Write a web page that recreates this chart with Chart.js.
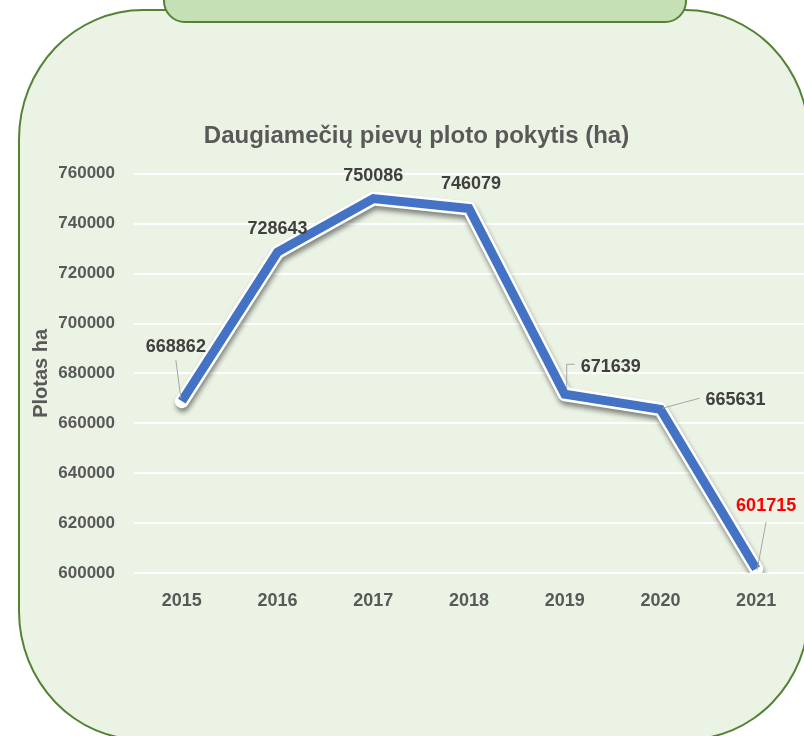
<!DOCTYPE html>
<html><head><meta charset="utf-8">
<script src="https://cdn.jsdelivr.net/npm/chart.js@4"></script>
<style>
html,body{margin:0;padding:0;width:804px;height:736px;overflow:hidden;background:#fff;}
#panel{position:absolute;left:18px;top:9px;width:792px;height:732px;box-sizing:border-box;border:2px solid #548235;border-radius:125px/130px;background:#ebf3e5;}
#tab{position:absolute;left:163px;top:-40px;width:524px;height:63px;box-sizing:border-box;border:2px solid #548235;border-radius:0 0 22px 22px;background:#c5e0b4;}
#wrap{position:absolute;left:0;top:0;width:804px;height:736px;}
canvas{display:block;}
</style></head>
<body>
<div id="panel"></div>
<div id="tab"></div>
<div id="wrap"><canvas id="c"></canvas></div>
<script>
const categories = ['2015','2016','2017','2018','2019','2020','2021'];
const values = [668862, 728643, 750086, 746079, 671639, 665631, 601715];
const yTicks = [600000, 620000, 640000, 660000, 680000, 700000, 720000, 740000, 760000];
const chartTitle = 'Daugiamečių pievų ploto pokytis (ha)';
const yTitle = 'Plotas ha';

const FONT = "'Liberation Sans', Arial, sans-serif";

// label placement relative to each point
const labelPlacement = [
  {dx:-6, dy:-54, leader:[[-6,-41],[-1,-3]]},
  {dx:0, dy:-23, leader:null},
  {dx:0, dy:-23, leader:null},
  {dx:2, dy:-25, leader:null},
  {dx:46, dy:-27, leader:[[2,-6],[2,-30],[10,-30]]},
  {dx:75, dy:-9, leader:[[2,-1],[39,-11]]},
  {dx:10, dy:-63, leader:[[1,1],[10,-47]]}
];
const labelColors = ['#404040','#404040','#404040','#404040','#404040','#404040','#ff0000'];

const glowPlugin = {
  id:'glow',
  beforeDatasetDraw(chart, args){
    const ctx = chart.ctx;
    ctx.save();
    if(args.index===0){
      ctx.shadowColor='rgba(0,0,0,0.45)';
      ctx.shadowBlur=5;
      ctx.shadowOffsetX=1;
      ctx.shadowOffsetY=4;
    }
  },
  afterDatasetDraw(chart){ chart.ctx.restore(); }
};

const labelPlugin = {
  id:'vlabels',
  afterDatasetsDraw(chart){
    const ctx = chart.ctx;
    const meta = chart.getDatasetMeta(1);
    meta.data.forEach((pt,i)=>{
      const p = labelPlacement[i];
      ctx.save();
      if(p.leader){
        ctx.strokeStyle='#a6a6a6';
        ctx.lineWidth=1;
        ctx.beginPath();
        p.leader.forEach((q,j)=>{
          const x=pt.x+q[0], y=pt.y+q[1];
          if(j===0) ctx.moveTo(x,y); else ctx.lineTo(x,y);
        });
        ctx.stroke();
      }
      ctx.font = 'bold 18px ' + FONT;
      ctx.fillStyle = labelColors[i];
      ctx.textAlign='center';
      ctx.textBaseline='middle';
      ctx.fillText(String(values[i]), pt.x+p.dx, pt.y+p.dy);
      ctx.restore();
    });
  }
};

new Chart(document.getElementById('c'), {
  type:'line',
  data:{
    labels:categories,
    datasets:[
      {data:values, order:2, borderColor:'#ffffff', borderWidth:14, pointRadius:0, tension:0, borderJoinStyle:'round', borderCapStyle:'round'},
      {data:values, order:1, borderColor:'#4472c4', borderWidth:9, pointRadius:0, tension:0, borderJoinStyle:'miter', borderCapStyle:'butt'}
    ]
  },
  options:{
    responsive:true,
    maintainAspectRatio:false,
    animation:false,
    layout:{padding:{left:29, right:0, top:122, bottom:125}},
    plugins:{
      legend:{display:false},
      tooltip:{enabled:false},
      title:{display:true, text:chartTitle, color:'#595959', font:{family:FONT, size:24, weight:'bold'}, padding:{top:0,bottom:23}}
    },
    scales:{
      x:{
        offset:true,
        afterFit(s){ s.height = 38; },
        grid:{display:false, drawTicks:false},
        border:{display:false},
        ticks:{color:'#595959', font:{family:FONT, size:18, weight:'bold'}, padding:17}
      },
      y:{
        min:600000, max:760000,
        afterFit(s){ s.width = 105; },
        afterBuildTicks(s){ s.ticks = yTicks.map(v=>({value:v})); },
        grid:{color:'#ffffff', lineWidth:2, drawTicks:false},
        border:{display:false},
        ticks:{color:'#595959', font:{family:FONT, size:17, weight:'bold'}, padding:19, callback:(v)=>String(v)},
        title:{display:true, text:yTitle, color:'#595959', font:{family:FONT, size:20, weight:'bold'}, padding:0}
      }
    }
  },
  plugins:[glowPlugin, labelPlugin]
});
</script>
</body></html>
